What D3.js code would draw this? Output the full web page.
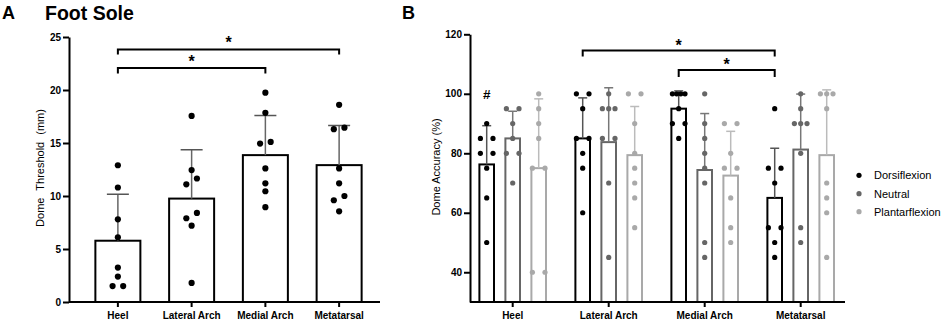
<!DOCTYPE html>
<html><head><meta charset="utf-8">
<script src="https://cdn.jsdelivr.net/npm/d3@7"></script>
<style>
body{margin:0;background:#fff}
svg{display:block}
text{font-family:"Liberation Sans",Arial,Helvetica,sans-serif}
</style>
</head><body>
<svg id="c" width="941" height="322"></svg>
<script>
// ---------- data ----------
const regions = ["Heel", "Lateral Arch", "Medial Arch", "Metatarsal"];

// Panel A: dome threshold (mm), individual subjects
const thresholdHeel = [12.9, 10.8, 7.8, 6.1, 3.25, 2.4, 1.5, 1.5];
const thresholdLateral = [17.55, 12.45, 11.65, 11.1, 8.4, 7.9, 7.2, 1.8];
const thresholdMedial = [19.75, 17.85, 15.1, 14.95, 12.6, 11.2, 10.45, 8.95];
const thresholdMetatarsal = [18.6, 16.45, 16.3, 12.6, 11.2, 10.0, 9.6, 8.55];
const thresholdTicks = [0, 5, 10, 15, 20, 25];

// Panel B: dome accuracy (%), per ankle position, per region
const positions = ["Dorsiflexion", "Neutral", "Plantarflexion"];
const accDorsiflexion = [
  [90, 85, 85, 80, 80, 75, 65, 50],
  [100, 100, 95, 85, 85, 80, 75, 60],
  [100, 100, 100, 100, 95, 90, 90, 85],
  [95, 75, 75, 70, 55, 55, 50, 45]
];
const accNeutral = [
  [95, 95, 90, 85, 80, 80, 70],
  [100, 95, 95, 95, 85, 85, 70, 45],
  [100, 90, 85, 80, 75, 70, 50, 45],
  [100, 95, 90, 90, 90, 80, 55, 50]
];
const accPlantarflexion = [
  [100, 95, 90, 85, 75, 75, 40, 40],
  [100, 100, 90, 80, 75, 70, 65, 55],
  [90, 90, 80, 75, 75, 65, 55, 50],
  [100, 100, 100, 95, 70, 65, 60, 45]
];
const accuracyTicks = [40, 60, 80, 100, 120];

const sigA = [
  { from: "Heel", to: "Metatarsal", label: "*" },
  { from: "Heel", to: "Medial Arch", label: "*" }
];
const sigB = [
  { from: "Lateral Arch", to: "Metatarsal", label: "*" },
  { from: "Medial Arch", to: "Metatarsal", label: "*" }
];
const heelMark = "#";

// ---------- helpers ----------
const svg = d3.select("#c");
const FONT = '"Liberation Sans",Arial,Helvetica,sans-serif';

function stats(v) { return { mean: d3.mean(v), sd: d3.deviation(v) }; }

// Prism-like scatter: rows of points that would overlap are spread sideways
function scatterLayout(vals, y, spread, thr) {
  const pts = vals.map(v => ({ v, py: y(v) })).sort((a, b) => a.py - b.py);
  const rows = [];
  pts.forEach(p => {
    const r = rows[rows.length - 1];
    if (r && Math.abs(p.py - r[0].py) < thr) r.push(p); else rows.push([p]);
  });
  const out = [];
  rows.forEach(r => {
    r.sort((a, b) => a.v - b.v);
    const n = r.length;
    r.forEach((p, i) => {
      p.dx = n === 1 ? 0 : -spread + i * (2 * spread / (n - 1));
      out.push(p);
    });
  });
  return out;
}

function styleAxis(g) {
  g.attr("font-family", FONT).attr("font-size", 10).attr("font-weight", "bold");
  g.selectAll(".tick line").attr("stroke", "#000").attr("stroke-width", 2);
  g.selectAll(".tick text").attr("fill", "#000");
}

// ================= PANEL A =================
const seriesA = [thresholdHeel, thresholdLateral, thresholdMedial, thresholdMetatarsal];
const xA = d3.scaleBand().domain(regions).range([81, 376]).paddingInner(0.36).paddingOuter(0.18);
const yA = d3.scaleLinear().domain([0, 25]).range([302, 37]);
const gA = svg.append("g");

// y axis
const axA = gA.append("g").attr("transform", "translate(69,0)")
  .call(d3.axisLeft(yA).tickValues(thresholdTicks).tickSize(6).tickSizeOuter(0).tickPadding(2));
styleAxis(axA);
axA.select(".domain").attr("stroke", "#000").attr("stroke-width", 2);

// bars
const cA = xA.bandwidth() / 2;
regions.forEach((r, i) => {
  const s = stats(seriesA[i]);
  const cx = xA(r) + cA;
  gA.append("rect")
    .attr("x", cx - 22.5).attr("width", 45)
    .attr("y", yA(s.mean)).attr("height", yA(0) - yA(s.mean))
    .attr("fill", "#fff").attr("stroke", "#000").attr("stroke-width", 2);
  // error bar (upper)
  gA.append("line").attr("x1", cx).attr("x2", cx)
    .attr("y1", yA(s.mean)).attr("y2", yA(s.mean + s.sd))
    .attr("stroke", "#666").attr("stroke-width", 1.5);
  gA.append("line").attr("x1", cx - 11).attr("x2", cx + 11)
    .attr("y1", yA(s.mean + s.sd)).attr("y2", yA(s.mean + s.sd))
    .attr("stroke", "#555").attr("stroke-width", 1.5);
  // points
  scatterLayout(seriesA[i], yA, 5.3, 7).forEach(p => {
    gA.append("circle").attr("cx", cx + p.dx).attr("cy", p.py).attr("r", 3.1).attr("fill", "#000");
  });
});

// x axis
gA.append("line").attr("x1", 69).attr("x2", 380).attr("y1", 302).attr("y2", 302)
  .attr("stroke", "#000").attr("stroke-width", 2);
const axAx = gA.append("g").attr("transform", "translate(0,302)")
  .call(d3.axisBottom(xA).tickSize(5).tickSizeOuter(0).tickPadding(4.5));
styleAxis(axAx);
axAx.select(".domain").remove();

// y label
gA.append("text").attr("transform", "translate(44,168) rotate(-90)")
  .attr("text-anchor", "middle").attr("font-size", 11).attr("word-spacing", 4)
  .text("Dome Threshold (mm)");

// significance brackets
const bracketA = [{ y: 49.5, leg: 5, ty: 48 }, { y: 68, leg: 5.5, ty: 67 }];
sigA.forEach((s, k) => {
  const x1 = xA(s.from) + cA, x2 = xA(s.to) + cA, b = bracketA[k];
  gA.append("path")
    .attr("d", `M${x1},${b.y + b.leg}V${b.y}H${x2}V${b.y + b.leg}`)
    .attr("fill", "none").attr("stroke", "#000").attr("stroke-width", 2);
  gA.append("text").attr("x", (x1 + x2) / 2).attr("y", b.ty)
    .attr("text-anchor", "middle").attr("font-size", 16).attr("font-weight", "bold").text(s.label);
});

// titles
svg.append("text").attr("x", 2).attr("y", 18.5).attr("font-size", 18).attr("font-weight", "bold").text("A");
svg.append("text").attr("x", 45).attr("y", 19.5).attr("font-size", 19.5).attr("font-weight", "bold").text("Foot Sole");

// ================= PANEL B =================
const seriesB = [accDorsiflexion, accNeutral, accPlantarflexion];
const barStroke = ["#000", "#666", "#a9a9a9"];
const dotFill = ["#000", "#666", "#a9a9a9"];
const errStroke = ["#555", "#777", "#bbb"];

const xB = d3.scaleBand().domain(regions).range([464.7, 848.7]).paddingInner(0.19).paddingOuter(0.095);
const subB = d3.scalePoint().domain(positions).range([-26, 26]);
const yB = d3.scaleLinear().domain([30, 120]).range([302, 34.3]);
const gB = svg.append("g");

const axB = gB.append("g").attr("transform", "translate(470,0)")
  .call(d3.axisLeft(yB).tickValues(accuracyTicks).tickSize(6).tickSizeOuter(0).tickPadding(2));
styleAxis(axB);
axB.select(".domain").attr("stroke", "#000").attr("stroke-width", 2);

const cB = xB.bandwidth() / 2;
regions.forEach((r, i) => {
  positions.forEach((pos, j) => {
    const vals = seriesB[j][i];
    const s = stats(vals);
    const cx = xB(r) + cB + subB(pos);
    gB.append("rect")
      .attr("x", cx - 7.3).attr("width", 14.6)
      .attr("y", yB(s.mean)).attr("height", yB(30) - yB(s.mean))
      .attr("fill", "#fff").attr("stroke", barStroke[j]).attr("stroke-width", 2);
    gB.append("line").attr("x1", cx).attr("x2", cx)
      .attr("y1", yB(s.mean)).attr("y2", yB(s.mean + s.sd))
      .attr("stroke", errStroke[j]).attr("stroke-width", 1.5);
    gB.append("line").attr("x1", cx - 4.5).attr("x2", cx + 4.5)
      .attr("y1", yB(s.mean + s.sd)).attr("y2", yB(s.mean + s.sd))
      .attr("stroke", errStroke[j]).attr("stroke-width", 1.5);
    scatterLayout(vals, yB, 6.3, 7).forEach(p => {
      gB.append("circle").attr("cx", cx + p.dx).attr("cy", p.py).attr("r", 2.6).attr("fill", dotFill[j]);
    });
  });
});

gB.append("line").attr("x1", 470).attr("x2", 845).attr("y1", 302).attr("y2", 302)
  .attr("stroke", "#000").attr("stroke-width", 2);
const axBx = gB.append("g").attr("transform", "translate(0,302)")
  .call(d3.axisBottom(xB).tickSize(5).tickSizeOuter(0).tickPadding(4.5));
styleAxis(axBx);
axBx.select(".domain").remove();

gB.append("text").attr("transform", "translate(440,167) rotate(-90)")
  .attr("text-anchor", "middle").attr("font-size", 11).text("Dome Accuracy (%)");

// "#" over heel dorsiflexion
gB.append("text").attr("x", xB("Heel") + cB + subB("Dorsiflexion")).attr("y", 99)
  .attr("text-anchor", "middle").attr("font-size", 13.5).attr("font-weight", "bold").text(heelMark);

const bracketB = [{ y: 50.5, leg: 6, ty: 50.5 }, { y: 70, leg: 7, ty: 70 }];
sigB.forEach((s, k) => {
  const x1 = xB(s.from) + cB + subB("Dorsiflexion"), x2 = xB(s.to) + cB + subB("Dorsiflexion"), b = bracketB[k];
  gB.append("path")
    .attr("d", `M${x1},${b.y + b.leg}V${b.y}H${x2}V${b.y + b.leg}`)
    .attr("fill", "none").attr("stroke", "#000").attr("stroke-width", 2);
  gB.append("text").attr("x", (x1 + x2) / 2).attr("y", b.ty)
    .attr("text-anchor", "middle").attr("font-size", 16).attr("font-weight", "bold").text(s.label);
});

// legend
const legY = [175.3, 193.7, 211.7];
positions.forEach((p, j) => {
  svg.append("circle").attr("cx", 859).attr("cy", legY[j]).attr("r", 2.6).attr("fill", dotFill[j]);
  svg.append("text").attr("x", 874).attr("y", legY[j] + 4).attr("font-size", 11).text(p);
});

svg.append("text").attr("x", 402).attr("y", 18.5).attr("font-size", 18).attr("font-weight", "bold").text("B");
</script>
</body></html>
